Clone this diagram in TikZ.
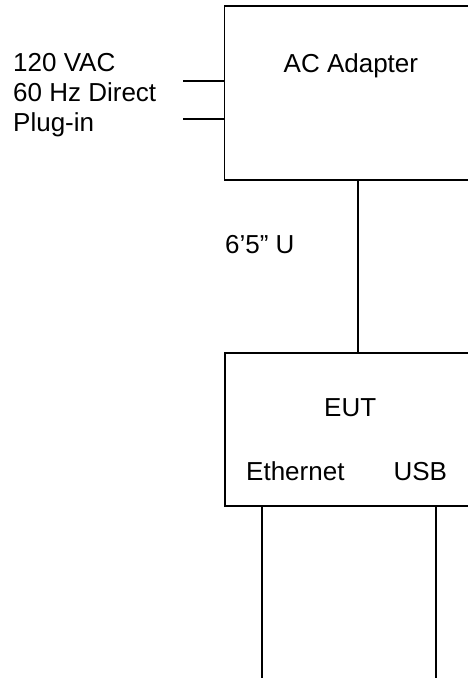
\documentclass[tikz,border=0pt]{standalone}
\usepackage{fontspec}
\setmainfont{Liberation Sans}
\begin{document}
\begin{tikzpicture}[x=1pt,y=-1pt,
  wire/.style={line width=1.5pt},
  box/.style={draw,line width=1.5pt,rectangle,inner sep=0pt,anchor=north west},
  lbl/.style={inner sep=0pt,anchor=base west,font=\fontsize{26}{30}\selectfont}]
\useasboundingbox (0,0) rectangle (468,678);
\clip (0,0) rectangle (468,678);
% boxes
\node[box,minimum width=270pt,minimum height=174pt] (ac) at (223.5,5) {};
\node[box,minimum width=270pt,minimum height=153pt] (eut) at (224,352) {};
% texts
\node[lbl] (actxt) at (283.5,72.7) {AC Adapter};
\node[lbl] (l1) at (13,71.7) {120 VAC};
\node[lbl] (l2) at (13,101.7) {60 Hz Direct};
\node[lbl] (l3) at (13,131.7) {Plug-in};
\node[lbl] (len) at (225,253) {6’5” U};
\node[lbl] (euttxt) at (324,416.7) {EUT};
\node[lbl] (eth) at (246,480.7) {Ethernet};
\node[lbl] (usb) at (393.3,480.7) {USB};
% coordinates
\coordinate (p1) at (183,81);
\coordinate (p2) at (183,119);
\coordinate (ethend) at (262,678);
\coordinate (usbend) at (436,678);
% connectors
\draw[wire] (p1) -- (p1 -| ac.west);
\draw[wire] (p2) -- (p2 -| ac.west);
\draw[wire] (ac.south -| 358,0) -- (eut.north -| 358,0);
\draw[wire] (eut.south -| ethend) -- (ethend);
\draw[wire] (eut.south -| usbend) -- (usbend);
\end{tikzpicture}
\end{document}
